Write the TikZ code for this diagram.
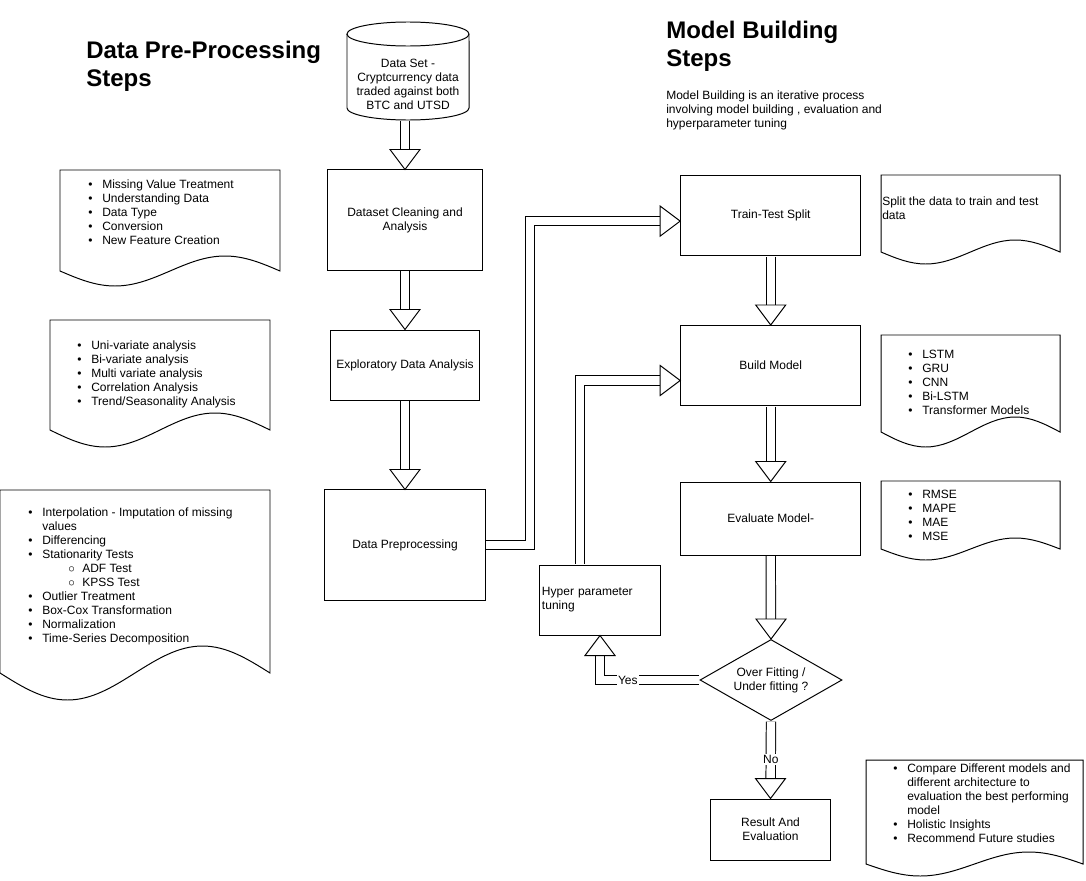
\documentclass[tikz,border=0pt]{standalone}
\usepackage{fontspec}
\setmainfont{Liberation Sans}
\usetikzlibrary{shapes.geometric}
\tikzset{
  procbox/.style={draw, fill=white, line width=0.7pt, align=center, inner sep=2pt},
  listtxt/.style={anchor=north west, align=left, inner sep=0pt},
  heading/.style={anchor=north west, align=left, inner sep=0pt,
    font=\fontsize{17.07pt}{19.9pt}\selectfont\bfseries},
  blockline/.style={double, double distance=0.21cm, line width=0.7pt,
    shorten >=0.5cm, shorten <=0.4pt},
  bhead/.pic={\draw[line width=0.7pt, fill=white, line join=miter]
    (0,0) -- (-20,15) -- (-20,-15) -- cycle;},
  tag/.style={fill=white, inner sep=1pt}
}
\newcommand{\itm}[1]{\makebox[0.35cm][l]{\textbullet}#1}
\newcommand{\subitm}[1]{\hspace{1cm}\makebox[0.35cm][l]{$\circ$}#1}
% document shape: left, top, right, end of wave, wave height
\newcommand{\docframe}[5]{%
  \draw[line width=0.7pt, fill=white] (#1,#2) -- (#3,#2) -- (#3,#4)
    sin ({#3-(#3-#1)/4},{#4-#5}) cos ({(#1+#3)/2},#4)
    sin ({#1+(#3-#1)/4},{#4+#5}) cos (#1,#4) -- cycle;}
\begin{document}
\begin{tikzpicture}[x=0.025cm, y=-0.025cm, font=\fontsize{8.54pt}{9.96pt}\selectfont]
  \useasboundingbox (0,0) rectangle (1086,881);

  % headings
  \node[heading] (h1) at (86,38.4) {\strut Data Pre-Processing\\Steps};
  \node[heading] (h2) at (666,18.4) {\strut Model Building\\Steps};
  \node[listtxt] (mbdesc) at (666,89.5) {\strut Model Building is an iterative process\\
    involving model building , evaluation and\\hyperparameter tuning};

  % data set
  \draw[line width=0.7pt, fill=white] (347,34) -- (347,108)
    arc[start angle=180, end angle=360, x radius=1.525cm, y radius=0.3cm]
    -- (469,34)
    arc[start angle=0, end angle=180, x radius=1.525cm, y radius=0.3cm] -- cycle;
  \draw[line width=0.7pt] (347,34)
    arc[start angle=180, end angle=360, x radius=1.525cm, y radius=0.3cm];
  \node[align=center] (dset) at (408,84.4)
    {Data Set -\\Cryptcurrency data\\traded against both\\BTC and UTSD};
  \coordinate (dsetb) at (405,120);

  % notes
  \docframe{60}{170}{280}{271}{15}
  \docframe{50}{320}{270}{430}{17}
  \docframe{0}{490}{270}{673}{27}
  \docframe{881}{175}{1060}{252}{12}
  \docframe{881}{335}{1060}{432}{15}
  \docframe{881}{481}{1060}{549}{11}
  \docframe{866}{760}{1083}{864}{12}

  \node[listtxt] (n1) at (88,178.5) {\strut\itm{Missing Value Treatment}\\
    \itm{Understanding Data}\\\itm{Data Type}\\\itm{Conversion}\\
    \itm{New Feature Creation}};
  \node[listtxt] (n2) at (77,339.5) {\strut\itm{Uni-variate analysis}\\
    \itm{Bi-variate analysis}\\\itm{Multi variate analysis}\\
    \itm{Correlation Analysis}\\\itm{Trend/Seasonality Analysis}};
  \node[listtxt] (n3) at (28,506.5) {\strut\itm{Interpolation - Imputation of missing}\\
    \hspace{0.35cm}values\\\itm{Differencing}\\\itm{Stationarity Tests}\\
    \subitm{ADF Test}\\\subitm{KPSS Test}\\\itm{Outlier Treatment}\\
    \itm{Box-Cox Transformation}\\\itm{Normalization}\\
    \itm{Time-Series Decomposition}};
  \node[listtxt] (n4) at (882,195.5) {\strut Split the data to train and test\\data};
  \node[listtxt] (n5) at (908,348.5) {\strut\itm{LSTM}\\\itm{GRU}\\\itm{CNN}\\
    \itm{Bi-LSTM}\\\itm{Transformer Models}};
  \node[listtxt] (n6) at (908,488.5) {\strut\itm{RMSE}\\\itm{MAPE}\\\itm{MAE}\\\itm{MSE}};
  \node[listtxt] (n7) at (893,762.5) {\strut\itm{Compare Different models and}\\
    \hspace{0.35cm}different architecture to\\
    \hspace{0.35cm}evaluation the best performing\\
    \hspace{0.35cm}model\\\itm{Holistic Insights}\\\itm{Recommend Future studies}};

  % steps
  \node[procbox, minimum width=3.875cm, minimum height=2.5cm] (clean) at (405,220)
    {Dataset Cleaning and\\Analysis};
  \node[procbox, minimum width=3.7cm, minimum height=1.75cm] (eda) at (405,365)
    {Exploratory Data Analysis};
  \node[procbox, minimum width=4cm, minimum height=2.75cm] (prep) at (405,545)
    {Data Preprocessing};
  \node[procbox, minimum width=4.5cm, minimum height=2cm] (split) at (770.7,215.5)
    {Train-Test Split};
  \node[procbox, minimum width=4.5cm, minimum height=2cm] (build) at (770.7,365.5)
    {Build Model};
  \node[procbox, minimum width=4.5cm, minimum height=1.825cm] (evalm) at (770.7,518.5)
    {Evaluate Model-};
  \node[procbox, minimum width=3cm, minimum height=1.75cm, text width=2.9cm,
    align=left] (hyper) at (600,600) {Hyper parameter\\tuning};
  \node[procbox, diamond, aspect=1.75, inner sep=0pt, minimum width=3.55cm,
    minimum height=2.025cm] (diam) at (771,680) {Over Fitting /\\Under fitting ?};
  \node[procbox, minimum width=2.975cm, minimum height=1.525cm] (result) at (770.5,829.5)
    {Result And\\Evaluation};

  \coordinate (splitin) at ([yshift=-0.14cm]split.west);
  \coordinate (buildin) at ([yshift=-0.375cm]build.west);

  % block arrows
  \draw[blockline] (dsetb) -- (clean.north);
  \pic[rotate=-90] at (clean.north) {bhead};
  \draw[blockline] (clean.south) -- (eda.north);
  \pic[rotate=-90] at (eda.north) {bhead};
  \draw[blockline] (eda.south) -- (prep.north);
  \pic[rotate=-90] at (prep.north) {bhead};
  \draw[blockline] (prep.east) -| ([xshift=-3.75cm]splitin) -- (splitin);
  \pic at (splitin) {bhead};
  \draw[blockline] (split.south) -- (build.north);
  \pic[rotate=-90] at (build.north) {bhead};
  \draw[blockline] (build.south) -- (evalm.north);
  \pic[rotate=-90] at (evalm.north) {bhead};
  \draw[blockline] (evalm.south) -- (diam.north);
  \pic[rotate=-90] at (diam.north) {bhead};
  \draw[blockline] (diam.south) -- node[tag] {No} (result.north);
  \pic[rotate=-90] at (result.north) {bhead};
  \draw[blockline] (diam.west) -| node[tag, pos=0.36] {Yes} (hyper.south);
  \pic[rotate=90] at (hyper.south) {bhead};
  \draw[blockline] ([xshift=-0.5cm]hyper.north) |- (buildin);
  \pic at (buildin) {bhead};
\end{tikzpicture}
\end{document}
